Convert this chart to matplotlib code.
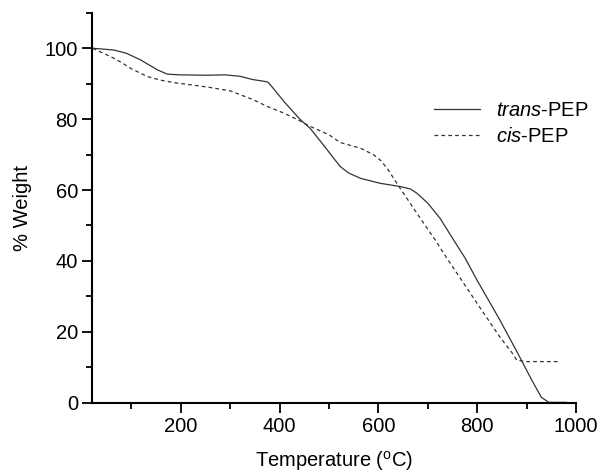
import matplotlib
matplotlib.use("Agg")
import matplotlib.pyplot as plt
from matplotlib.ticker import MultipleLocator

plt.rcParams['font.family'] = ['Liberation Sans', 'DejaVu Sans']
plt.rcParams['mathtext.fontset'] = 'custom'
plt.rcParams['mathtext.rm'] = 'Liberation Sans'
plt.rcParams['mathtext.it'] = 'Liberation Sans:italic'

# TGA traces, temperature (C) vs % weight
trans_T = [22, 40, 65, 90, 119, 153, 173, 200, 254, 290, 320, 345, 368, 376, 382,
           410, 441, 462, 490, 510, 523, 540, 564, 604, 644, 665, 678, 700, 725,
           751, 776, 800, 846, 880, 910, 930, 945, 980]
trans_W = [100, 99.8, 99.5, 98.6, 96.7, 93.9, 92.7, 92.5, 92.4, 92.5, 92.1, 91.2, 90.7, 90.5, 89.6,
           84.8, 80.0, 77.4, 72.5, 68.9, 66.6, 64.8, 63.3, 61.9, 61.0, 60.3, 59.1, 56.3, 52.0,
           46.2, 40.7, 34.5, 23.3, 14.5, 6.5, 1.5, 0.1, 0.1]
cis_T = [22, 40, 59, 80, 99, 133, 160, 187, 220, 257, 300, 345, 375, 409, 440, 463,
         500, 523, 564, 591, 605, 618, 644, 685, 715, 739, 800, 846, 870, 880,
         900, 940, 969]
cis_W = [100, 98.8, 97.6, 96.0, 94.3, 92.0, 91.0, 90.3, 89.7, 89.0, 88.0, 85.6, 83.6, 81.7, 79.6, 77.9,
         75.6, 73.4, 71.8, 69.9, 68.3, 66.1, 60.5, 52.0, 45.9, 40.7, 28.0, 18.5, 14.2, 12.0,
         11.6, 11.6, 11.6]

fig = plt.figure(figsize=(6, 4.76), dpi=100)
ax = fig.add_axes([0.153, 0.154, 0.807, 0.819])

ax.plot(trans_T, trans_W, color='#333333', lw=0.9, label=r'$\it{trans}$-PEP')
ax.plot(cis_T, cis_W, color='#333333', lw=0.9, ls=(0, (3, 2.5)), label=r'$\it{cis}$-PEP')

ax.set_xlim(20, 1000)
ax.set_ylim(0, 110)
ax.xaxis.set_minor_locator(MultipleLocator(100))
ax.yaxis.set_minor_locator(MultipleLocator(10))
ax.set_xticks([200, 400, 600, 800, 1000])
ax.set_yticks([0, 20, 40, 60, 80, 100])

for s in ['top', 'right']:
    ax.spines[s].set_visible(False)
for s in ['left', 'bottom']:
    ax.spines[s].set_linewidth(1.5)
ax.tick_params(which='major', direction='out', length=7, width=1.3, labelsize=14.5, pad=3)
ax.tick_params(which='minor', direction='out', length=4, width=1.3)

ax.set_xlabel(r'Temperature ($^{\rm o}$C)', fontsize=14.5, labelpad=10)
ax.set_ylabel('% Weight', fontsize=14.5, labelpad=9)

ax.legend(loc='upper left', bbox_to_anchor=(0.69, 0.795), frameon=False, fontsize=14.5,
          handlelength=2.3, handletextpad=0.8, labelspacing=0.38, borderaxespad=0)

fig.savefig("out.png", dpi=100)
